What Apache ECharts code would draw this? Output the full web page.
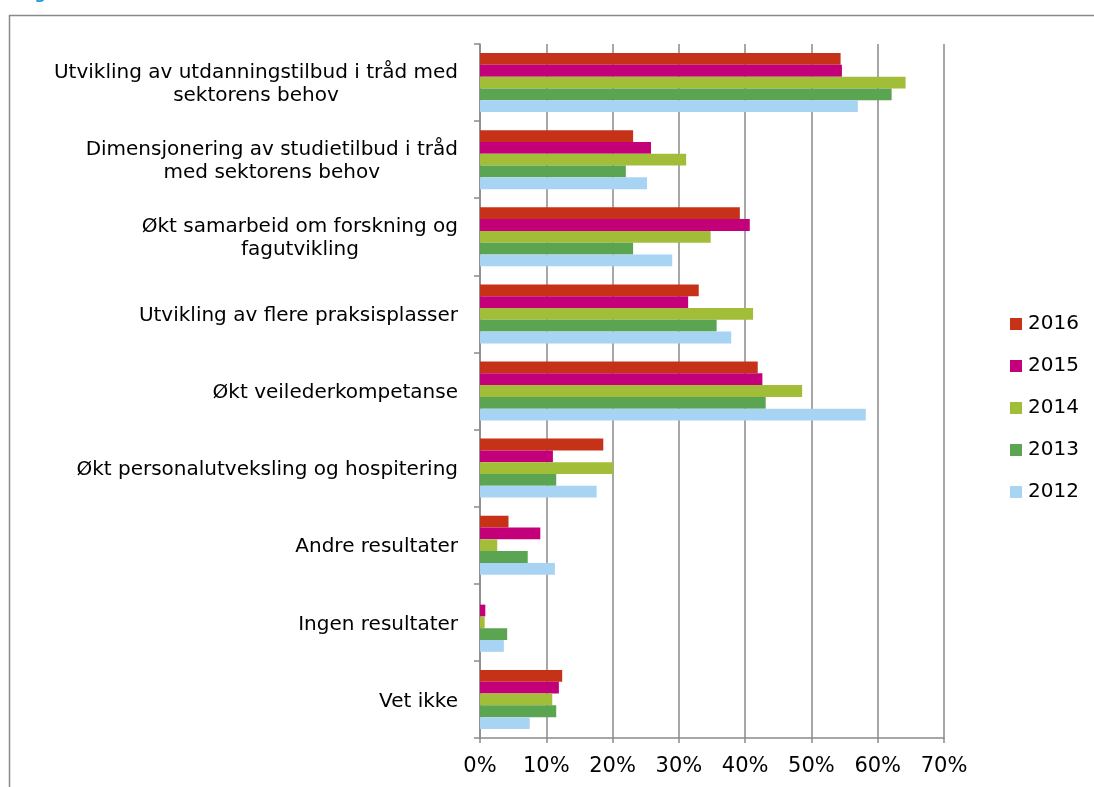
<!DOCTYPE html>
<html>
<head>
<meta charset="utf-8">
<script src="https://cdn.jsdelivr.net/npm/echarts@6/dist/echarts.min.js"></script>
<style>
  html, body { margin: 0; padding: 0; background: #fff; }
  #chart { width: 1094px; height: 787px; }
</style>
</head>
<body>
<div id="chart"></div>
<script>
// kategorier (ovenfra og ned), linjeskift der figuren bryter teksten
const categories = [
  'Utvikling av utdanningstilbud i tråd med\nsektorens behov',
  'Dimensjonering av studietilbud i tråd\nmed sektorens behov',
  'Økt samarbeid om forskning og\nfagutvikling',
  'Utvikling av flere praksisplasser',
  'Økt veilederkompetanse',
  'Økt personalutveksling og hospitering',
  'Andre resultater',
  'Ingen resultater',
  'Vet ikke'
]
const years = ['2016', '2015', '2014', '2013', '2012']
const colors = ['#C53218', '#C3007A', '#A2BE38', '#5BA552', '#A8D4F4']

// andel i prosent
const v2016 = [54.4, 23.1, 39.2, 33.0, 41.9, 18.6, 4.3, 0, 12.4]
const v2015 = [54.6, 25.8, 40.7, 31.4, 42.6, 11.0, 9.1, 0.8, 11.9]
const v2014 = [64.2, 31.1, 34.8, 41.2, 48.6, 20.1, 2.6, 0.7, 10.9]
const v2013 = [62.1, 22.0, 23.1, 35.7, 43.1, 11.5, 7.2, 4.1, 11.5]
const v2012 = [57.0, 25.2, 29.0, 37.9, 58.2, 17.6, 11.3, 3.6, 7.5]
const values = [v2016, v2015, v2014, v2013, v2012]

const xTicks = { min: 0, max: 70, interval: 10 }

const chart = echarts.init(document.getElementById('chart'))
const gridColor = '#8a8a8a'
const font = 'DejaVu Sans, Verdana, sans-serif'

const option = {
  backgroundColor: '#fff',
  animation: false,
  textStyle: { fontFamily: font },
  graphic: [
    {
      type: 'rect',
      shape: { x: 9.5, y: 15.5, width: 1200, height: 900 },
      style: { fill: 'none', stroke: '#8a8a8a', lineWidth: 1.5 },
      silent: true
    },
    {
      type: 'text',
      x: 18, y: 3,
      style: { text: 'Fig', fill: '#1a9be0', font: 'bold 16px ' + font, verticalAlign: 'bottom' },
      silent: true
    }
  ],
  legend: {
    orient: 'vertical',
    left: 1005,
    top: 309,
    icon: 'rect',
    itemWidth: 12,
    itemHeight: 12,
    itemGap: 22,
    data: years,
    textStyle: { fontSize: 20, color: '#000', fontFamily: font, padding: [0, 0, 0, 1] }
  },
  grid: { left: 480, right: 150, top: 44, bottom: 49, containLabel: false },
  xAxis: {
    type: 'value',
    min: xTicks.min,
    max: xTicks.max,
    interval: xTicks.interval,
    axisLine: { show: true, lineStyle: { color: gridColor, width: 1.5 } },
    axisTick: { show: true, length: 5, lineStyle: { color: gridColor, width: 1.5 } },
    splitLine: { show: true, lineStyle: { color: gridColor, width: 1.5 } },
    axisLabel: {
      formatter: '{value}%',
      fontSize: 21,
      color: '#000',
      margin: 18
    }
  },
  yAxis: {
    type: 'category',
    inverse: true,
    data: categories,
    axisLine: { show: true, lineStyle: { color: gridColor, width: 1.5 } },
    axisTick: { show: true, length: 6, lineStyle: { color: gridColor, width: 1.5 } },
    axisLabel: {
      margin: 22,
      fontSize: 20,
      color: '#000',
      lineHeight: 23,
      padding: [4, 0, 0, 0],
      formatter: function (v) {
        return v.split('\n').map(function (s) { return '{c|' + s + '}' }).join('\n')
      },
      rich: {
        c: { align: 'center', fontSize: 20, lineHeight: 23, color: '#000', fontFamily: font }
      }
    }
  },
  series: years.map(function (y, i) {
    return {
      name: y,
      type: 'bar',
      data: values[i],
      barGap: '0%',
      barCategoryGap: '23.5%',
      itemStyle: { color: colors[i] }
    }
  })
}

chart.setOption(option)
</script>
</body>
</html>
